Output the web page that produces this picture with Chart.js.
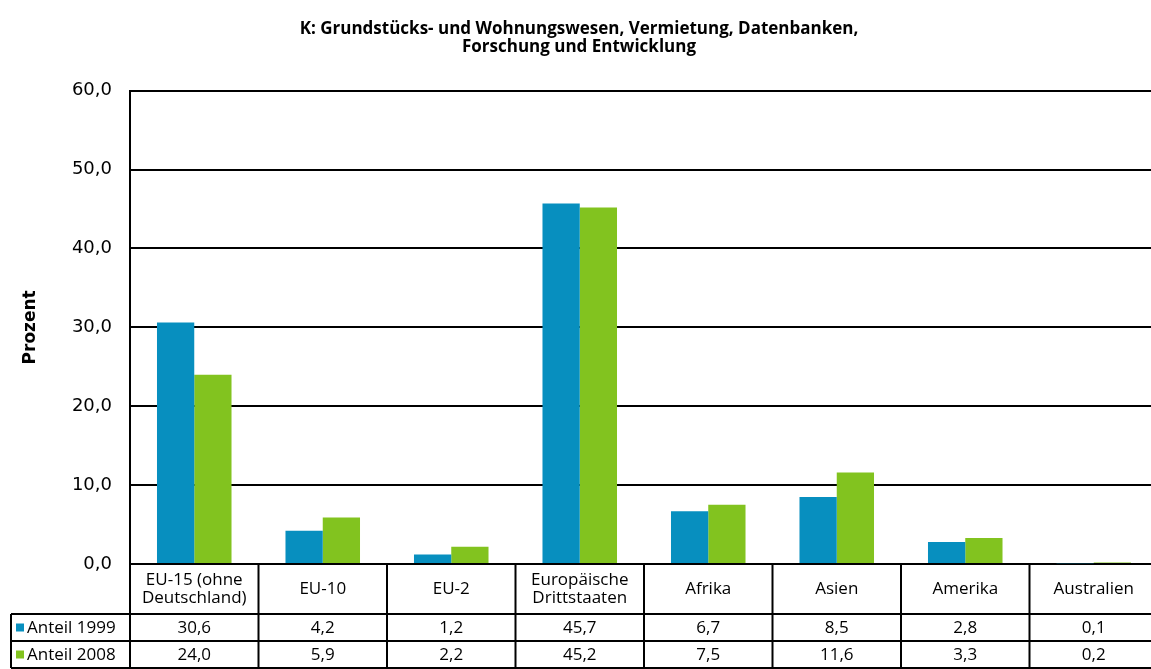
<!DOCTYPE html>
<html>
<head>
<meta charset="utf-8">
<script src="https://cdn.jsdelivr.net/npm/chart.js@4"></script>
<style>
  html, body { margin: 0; padding: 0; background: #fff; overflow: hidden; }
  #wrap { width: 1160px; height: 669px; }
</style>
</head>
<body>
<div id="wrap"><canvas id="chart" width="1160" height="669"></canvas></div>
<script>
const categories = [
    ["EU-15 (ohne", "Deutschland)"],
    ["EU-10"],
    ["EU-2"],
    ["Europäische", "Drittstaaten"],
    ["Afrika"],
    ["Asien"],
    ["Amerika"],
    ["Australien"]
];
const anteil1999 = [30.6, 4.2, 1.2, 45.7, 6.7, 8.5, 2.8, 0.1];
const anteil2008 = [24.0, 5.9, 2.2, 45.2, 7.5, 11.6, 3.3, 0.2];
const seriesNames = ["Anteil 1999", "Anteil 2008"];
const seriesColors = ["#078fbf", "#82c31f"];
const titleLines = ["K: Grundstücks- und Wohnungswesen, Vermietung, Datenbanken,", "Forschung und Entwicklung"];

const fmt = v => v.toFixed(1).replace(".", ",");
const FONT = "'Open Sans', 'DejaVu Sans', sans-serif";

// draws the data table under the plot, columns taken from the x scale
const dataTable = {
    id: "dataTable",
    afterDraw(chart) {
        const ctx = chart.ctx;
        const area = chart.chartArea;
        const x = chart.scales.x;
        const colW = (area.right - area.left) / categories.length;
        const top = area.bottom;
        const row1 = top + 50;
        const row2 = row1 + 27;
        const bottom = row2 + 27;
        const leftCol = 11;

        ctx.save();
        ctx.strokeStyle = "#000";
        ctx.lineWidth = 2;
        ctx.beginPath();
        // horizontal lines
        ctx.moveTo(leftCol, row1); ctx.lineTo(area.right, row1);
        ctx.moveTo(leftCol, row2); ctx.lineTo(area.right, row2);
        ctx.moveTo(leftCol, bottom); ctx.lineTo(area.right, bottom);
        // vertical lines
        ctx.moveTo(leftCol, row1); ctx.lineTo(leftCol, bottom);
        for (let i = 0; i <= categories.length; i++) {
            const xx = area.left + i * colW;
            ctx.moveTo(xx, top); ctx.lineTo(xx, bottom);
        }
        ctx.stroke();

        ctx.fillStyle = "#000";
        ctx.font = "17px " + FONT;
        ctx.textAlign = "center";
        ctx.textBaseline = "middle";
        categories.forEach((lines, i) => {
            const cx = x.getPixelForValue(i);
            const mid = (top + row1) / 2;
            const lh = 18;
            lines.forEach((t, j) => {
                ctx.fillText(t, cx, mid + (j - (lines.length - 1) / 2) * lh);
            });
            ctx.fillText(fmt(anteil1999[i]), cx, (row1 + row2) / 2 + 1);
            ctx.fillText(fmt(anteil2008[i]), cx, (row2 + bottom) / 2 + 1);
        });

        // legend keys in the first column
        [row1, row2].forEach((r, k) => {
            const cy = r + 13.5;
            ctx.fillStyle = seriesColors[k];
            ctx.fillRect(16, cy - 4, 8, 8);
            ctx.fillStyle = "#000";
            ctx.textAlign = "left";
            ctx.fillText(seriesNames[k], 27, cy + 1);
        });
        ctx.restore();
    }
};

new Chart(document.getElementById("chart"), {
    type: "bar",
    data: {
        labels: categories.map(c => c.join(" ")),
        datasets: [
            { label: seriesNames[0], data: anteil1999, backgroundColor: seriesColors[0] },
            { label: seriesNames[1], data: anteil2008, backgroundColor: seriesColors[1] }
        ]
    },
    options: {
        responsive: false,
        animation: false,
        layout: { padding: { left: 0, right: 2, top: 4, bottom: 0 } },
        datasets: { bar: { barPercentage: 1, categoryPercentage: 0.58 } },
        plugins: {
            legend: { display: false },
            tooltip: { enabled: false },
            title: {
                display: true,
                text: titleLines,
                color: "#000",
                font: { family: FONT, size: 17, weight: "bold", lineHeight: 1.05 },
                padding: { top: 16, bottom: 35 }
            }
        },
        scales: {
            x: {
                ticks: { display: false },
                grid: { display: false, drawTicks: false },
                border: { display: false },
                afterFit: s => { s.height = 105; }
            },
            y: {
                min: 0,
                max: 60,
                ticks: {
                    stepSize: 10,
                    color: "#000",
                    padding: 18,
                    font: { family: "'DejaVu Sans', sans-serif", size: 18 },
                    callback: v => fmt(v)
                },
                grid: { color: "#000", lineWidth: 2, drawTicks: false },
                border: { color: "#000", width: 2 },
                title: {
                    display: true,
                    text: "Prozent",
                    color: "#000",
                    font: { family: "'DejaVu Sans', sans-serif", size: 17, weight: "bold" },
                    padding: { top: 20, bottom: 0 }
                },
                afterFit: s => { s.width = 130; }
            }
        }
    },
    plugins: [dataTable]
});
</script>
</body>
</html>
